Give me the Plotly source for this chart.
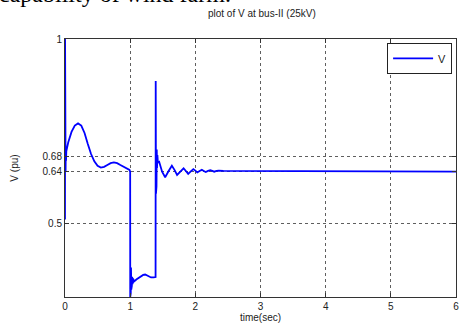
import plotly.graph_objects as go

time_sec = [0.0, 0.001, 0.003, 0.006, 0.009, 0.012, 0.016, 0.02, 0.05, 0.1, 0.15, 0.2,
            0.25, 0.3, 0.35, 0.4, 0.45, 0.5, 0.55, 0.6, 0.65, 0.7, 0.75, 0.8, 0.85,
            0.9, 0.95, 0.99, 1.0,
            1.001, 1.005, 1.009, 1.013, 1.017, 1.021, 1.026, 1.031, 1.037, 1.045,
            1.06, 1.1, 1.15, 1.2, 1.23, 1.27, 1.32, 1.36, 1.39,
            1.392, 1.396, 1.40, 1.404, 1.408, 1.412, 1.418, 1.425, 1.445, 1.49,
            1.537, 1.59, 1.64, 1.68, 1.72, 1.77, 1.82, 1.855, 1.89, 1.93, 1.97,
            2.0, 2.03, 2.065, 2.10, 2.13, 2.16, 2.195, 2.23, 2.26, 2.29, 2.325,
            2.36, 2.43, 2.5, 3.0, 4.0, 4.49, 4.5, 5.0, 6.0]
v_pu = [0.51, 1.0, 0.62, 0.86, 0.64, 0.70, 0.67, 0.695, 0.72, 0.748, 0.765, 0.771,
        0.765, 0.745, 0.715, 0.688, 0.668, 0.656, 0.651, 0.653, 0.658, 0.663, 0.665, 0.663, 0.658,
        0.653, 0.649, 0.645, 0.64,
        0.30, 0.40, 0.31, 0.38, 0.32, 0.37, 0.33, 0.355, 0.335, 0.35,
        0.342, 0.348, 0.355, 0.360, 0.361, 0.357, 0.353, 0.353, 0.354,
        0.886, 0.58, 0.762, 0.60, 0.70, 0.65, 0.685, 0.665, 0.667, 0.64,
        0.625, 0.642, 0.656, 0.645, 0.631, 0.64, 0.649, 0.642, 0.634, 0.641, 0.647,
        0.643, 0.638, 0.642, 0.645, 0.642, 0.639, 0.642, 0.644, 0.642, 0.640, 0.642,
        0.643, 0.642, 0.642, 0.642, 0.642, 0.642, 0.640, 0.640, 0.640]

x_ticks = [0, 1, 2, 3, 4, 5, 6]
y_ticks = [0.5, 0.64, 0.68, 1]
y_tick_text = ["0.5", "0.64", "0.68", "1"]

fig = go.Figure()
fig.add_trace(go.Scatter(x=time_sec, y=v_pu, mode="lines", name="V",
                         line=dict(color="#0000ff", width=1.8)))

axis_common = dict(showline=True, mirror="ticks", linecolor="#333333", linewidth=1,
                   showgrid=True, gridcolor="rgba(40,40,40,0.75)", griddash="dot",
                   gridwidth=1, ticks="inside", ticklen=4, tickcolor="#333333",
                   zeroline=False, ticklabeloverflow="allow",
                   tickfont=dict(family="Liberation Sans, Arial", size=10, color="#222"))

fig.update_layout(
    width=461, height=327,
    margin=dict(l=65, r=2, t=39, b=30),
    paper_bgcolor="white", plot_bgcolor="white",
    font=dict(family="Liberation Sans, Arial", size=10, color="#222"),
    title=dict(text="plot of V at bus-II (25kV)", x=0.568, xanchor="center",
               y=0.96, yanchor="middle", font=dict(size=10, color="#222")),
    xaxis=dict(range=[0, 6], tickvals=x_ticks, **axis_common,
               title=dict(text="time(sec)", standoff=2, font=dict(size=10))),
    yaxis=dict(range=[0.3, 1.0], tickvals=y_ticks, ticktext=y_tick_text, **axis_common,
               title=dict(text="V (pu)", standoff=22, font=dict(size=10))),
    showlegend=True,
    legend=dict(x=0.99, y=0.985, xanchor="right", yanchor="top",
                bordercolor="#222", borderwidth=1, bgcolor="white",
                font=dict(size=11), itemwidth=40),
)
fig.add_annotation(text="capability of wind farm.", xref="paper", yref="paper",
                   x=-0.175, y=1.118, xanchor="left", yanchor="bottom", showarrow=False,
                   font=dict(family="Liberation Serif, Times New Roman", size=24, color="black"))

fig.write_html("out.html", config={"displayModeBar": False},
               post_script="document.body.style.margin='0';document.body.style.overflow='hidden';")
